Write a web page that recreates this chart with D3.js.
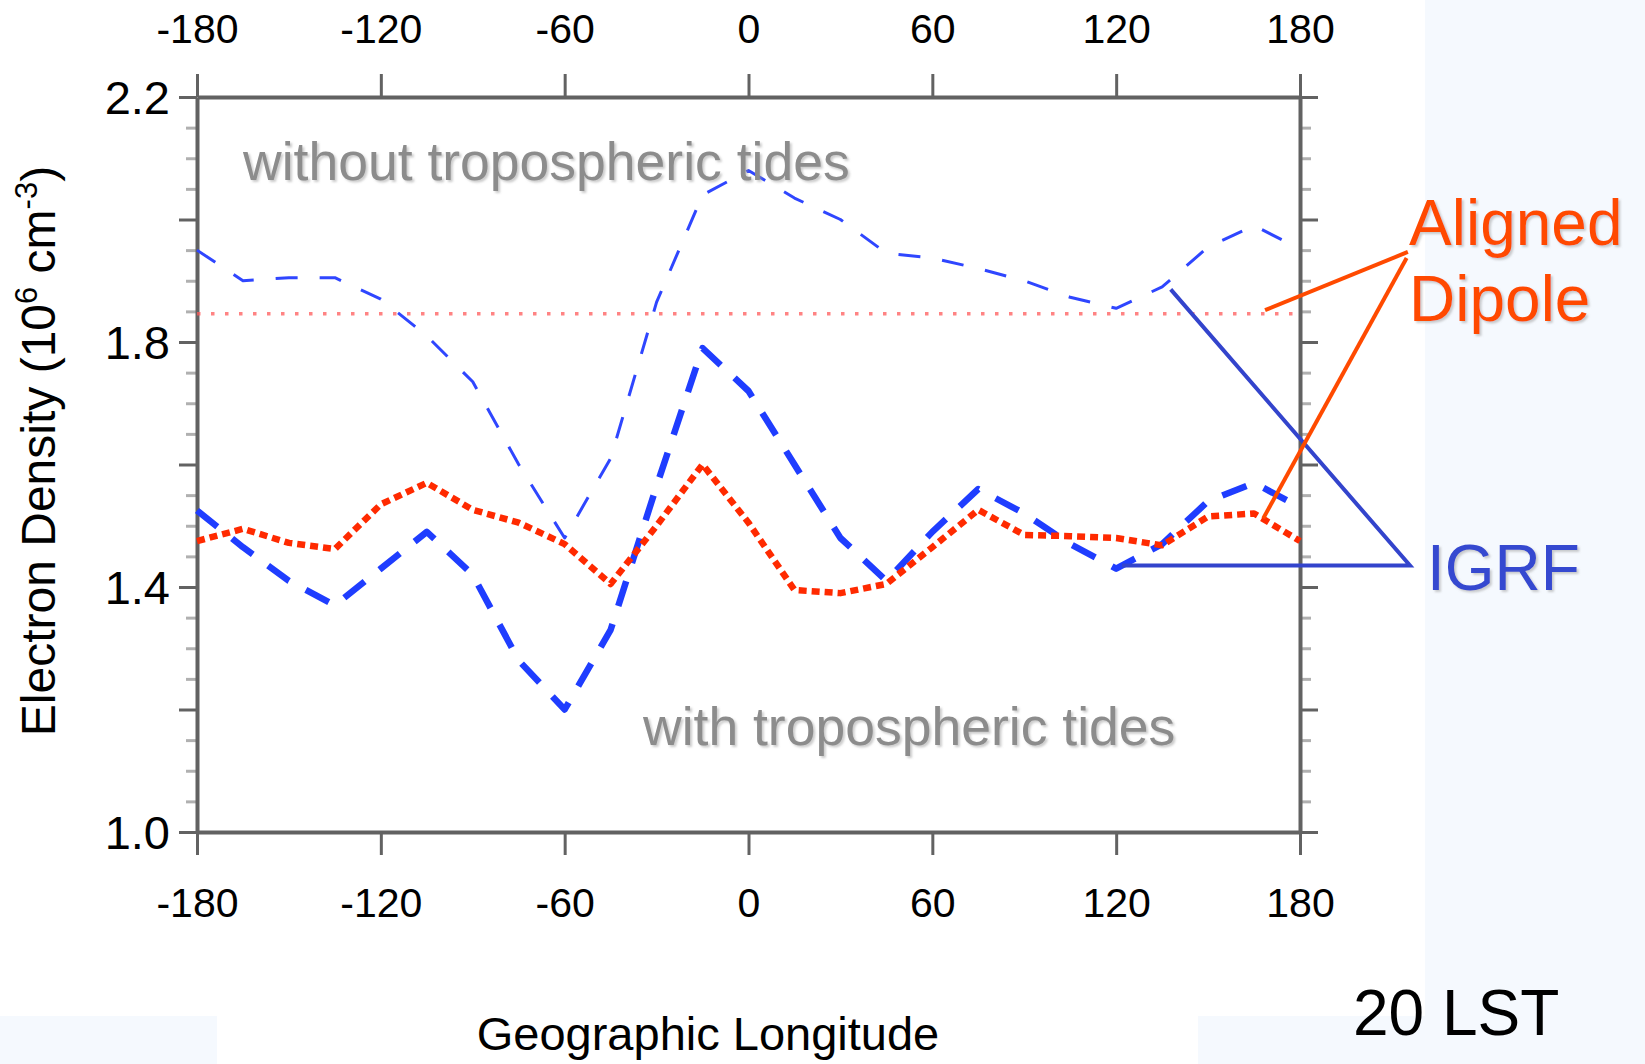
<!DOCTYPE html>
<html>
<head>
<meta charset="utf-8">
<script src="https://cdn.jsdelivr.net/npm/d3@7"></script>
<style>
  html, body { margin: 0; padding: 0; background: #fff; }
  svg { display: block; font-family: 'Liberation Sans', Arial, Helvetica, sans-serif; }
</style>
</head>
<body>
<div id="chart"></div>
<script>
/* global d3 */

// longitudes of the model grid (deg)
const lons = [-180, -165, -150, -135, -120, -105, -90, -75, -60, -45, -30, -15, 0,
  15, 30, 45, 60, 75, 90, 105, 120, 135, 150, 165, 180]

// electron density, 10^6 cm^-3
const igrfNoTides = [1.95, 1.90, 1.905, 1.905, 1.87, 1.81, 1.735, 1.60, 1.48, 1.61, 1.865, 2.04, 2.08,
  2.035, 2.00, 1.945, 1.937, 1.92, 1.90, 1.873, 1.855, 1.89, 1.955, 1.99, 1.952]
const igrfTides = [1.525, 1.465, 1.41, 1.37, 1.43, 1.49, 1.42, 1.28, 1.20, 1.33, 1.565, 1.79, 1.72,
  1.60, 1.48, 1.41, 1.49, 1.56, 1.52, 1.47, 1.43, 1.47, 1.54, 1.57, 1.53]
const dipoleNoTides = [1.846, 1.846, 1.846, 1.846, 1.846, 1.846, 1.846, 1.846, 1.846, 1.846, 1.846, 1.846, 1.846,
  1.846, 1.846, 1.846, 1.846, 1.846, 1.846, 1.846, 1.846, 1.846, 1.846, 1.846, 1.846]
const dipoleTides = [1.475, 1.495, 1.472, 1.462, 1.535, 1.57, 1.526, 1.505, 1.47, 1.405, 1.50, 1.60, 1.505,
  1.395, 1.39, 1.405, 1.465, 1.526, 1.485, 1.483, 1.48, 1.468, 1.515, 1.52, 1.475]

const xTicks = [-180, -120, -60, 0, 60, 120, 180]
const yMajor = [1.0, 1.2, 1.4, 1.6, 1.8, 2.0, 2.2]
const yLabeled = [1.0, 1.4, 1.8, 2.2]
const yMinor = [1.05, 1.1, 1.15, 1.25, 1.3, 1.35, 1.45, 1.5, 1.55, 1.65, 1.7, 1.75, 1.85, 1.9, 1.95, 2.05, 2.1, 2.15]

// callout pointer lines, in data units [lon, density]
const igrfPointer = [[137.8, 1.886], [215.9, 1.435], [121.9, 1.435]]
const dipolePointerA = [[168.6, 1.852], [215.2, 1.947]]
const dipolePointerB = [[168, 1.512], [214.8, 1.937]]

const W = 1645
const H = 1064
const plot = { left: 197, right: 1300, top: 97, bottom: 832 }

const svg = d3.select('#chart').append('svg').attr('width', W).attr('height', H)

// slide background peeking through
const bg = '#f5f9fe'
svg.append('rect').attr('x', 1425).attr('y', 0).attr('width', W - 1425).attr('height', H).attr('fill', bg)
svg.append('rect').attr('x', 0).attr('y', 1016).attr('width', 217).attr('height', H - 1016).attr('fill', bg)
svg.append('rect').attr('x', 1198).attr('y', 1016).attr('width', 227).attr('height', H - 1016).attr('fill', bg)

const defs = svg.append('defs')
defs.append('filter').attr('id', 'shadow').attr('x', '-5%').attr('y', '-20%').attr('width', '115%').attr('height', '150%')
  .append('feDropShadow').attr('dx', 2).attr('dy', 2).attr('stdDeviation', 1)
  .attr('flood-color', '#999').attr('flood-opacity', 0.5)

const x = d3.scaleLinear().domain([-180, 180]).range([plot.left, plot.right])
const y = d3.scaleLinear().domain([1.0, 2.2]).range([plot.bottom, plot.top])

const axisColor = '#626262'
const minorColor = '#b0b0b0'

function styleAxis (g, labelSize) {
  g.select('.domain').attr('stroke', axisColor).attr('stroke-width', 4)
  g.selectAll('.tick line').attr('stroke', axisColor).attr('stroke-width', 3)
  g.selectAll('.tick text').attr('fill', '#000').attr('font-size', labelSize)
    .attr('font-family', "'Liberation Sans', Arial, sans-serif")
}

// minor ticks first so majors sit on top
svg.append('g').attr('transform', `translate(${plot.left},0)`)
  .call(d3.axisLeft(y).tickValues(yMinor).tickSize(11).tickSizeOuter(0).tickFormat(''))
  .call(g => { g.select('.domain').remove(); g.selectAll('.tick line').attr('stroke', minorColor).attr('stroke-width', 3) })
svg.append('g').attr('transform', `translate(${plot.right},0)`)
  .call(d3.axisRight(y).tickValues(yMinor).tickSize(11).tickSizeOuter(0).tickFormat(''))
  .call(g => { g.select('.domain').remove(); g.selectAll('.tick line').attr('stroke', minorColor).attr('stroke-width', 3) })

svg.append('g').attr('transform', `translate(${plot.left},0)`)
  .call(d3.axisLeft(y).tickValues(yMajor).tickSize(18).tickSizeOuter(0).tickPadding(9)
    .tickFormat(d => yLabeled.some(v => Math.abs(v - d) < 1e-9) ? d.toFixed(1) : ''))
  .call(g => styleAxis(g, 47))
  .call(g => g.selectAll('.tick text').attr('dy', '0.36em'))

svg.append('g').attr('transform', `translate(${plot.right},0)`)
  .call(d3.axisRight(y).tickValues(yMajor).tickSize(18).tickSizeOuter(0).tickFormat(''))
  .call(g => styleAxis(g, 47))

svg.append('g').attr('transform', `translate(0,${plot.top})`)
  .call(d3.axisTop(x).tickValues(xTicks).tickSize(23).tickSizeOuter(0).tickPadding(31).tickFormat(d => String(d)))
  .call(g => styleAxis(g, 41))

svg.append('g').attr('transform', `translate(0,${plot.bottom})`)
  .call(d3.axisBottom(x).tickValues(xTicks).tickSize(23).tickSizeOuter(0).tickPadding(33).tickFormat(d => String(d)))
  .call(g => styleAxis(g, 41))

// series
const line = d3.line().x(d => x(d[0])).y(d => y(d[1]))
const pairs = vals => lons.map((lon, i) => [lon, vals[i]])

const series = [
  { vals: dipoleNoTides, color: '#ff5a5a', width: 3.5, dash: '3.5,10.5', opacity: 0.75 },
  { vals: igrfNoTides, color: '#2f46ff', width: 3, dash: '22,22', opacity: 1 },
  { vals: igrfTides, color: '#1f3dff', width: 6.5, dash: '26,19', opacity: 1 },
  { vals: dipoleTides, color: '#ff2a00', width: 6.5, dash: '8,5', opacity: 1 }
]

svg.append('g').selectAll('path').data(series).enter().append('path')
  .attr('d', s => line(pairs(s.vals)))
  .attr('fill', 'none')
  .attr('stroke', s => s.color)
  .attr('stroke-width', s => s.width)
  .attr('stroke-dasharray', s => s.dash)
  .attr('stroke-opacity', s => s.opacity)
  .attr('stroke-linejoin', 'round')

// in-plot labels
svg.append('text').attr('x', 243).attr('y', 180).attr('font-size', 53.5).attr('fill', '#8c8c8c')
  .attr('filter', 'url(#shadow)').text('without tropospheric tides')
svg.append('text').attr('x', 643).attr('y', 745).attr('font-size', 53.5).attr('fill', '#8c8c8c')
  .attr('filter', 'url(#shadow)').text('with tropospheric tides')

// callouts
svg.append('path').attr('d', line(igrfPointer)).attr('fill', 'none')
  .attr('stroke', '#3344cc').attr('stroke-width', 4)
svg.append('path').attr('d', line(dipolePointerA)).attr('fill', 'none')
  .attr('stroke', '#ff4a00').attr('stroke-width', 4)
svg.append('path').attr('d', line(dipolePointerB)).attr('fill', 'none')
  .attr('stroke', '#ff4a00').attr('stroke-width', 4)

svg.append('text').attr('x', 1409).attr('y', 245).attr('font-size', 64).attr('fill', '#ff4a00')
  .attr('filter', 'url(#shadow)').text('Aligned')
svg.append('text').attr('x', 1409).attr('y', 321).attr('font-size', 64).attr('fill', '#ff4a00')
  .attr('filter', 'url(#shadow)').text('Dipole')
svg.append('text').attr('x', 1427).attr('y', 590).attr('font-size', 64).attr('fill', '#3548d0')
  .attr('filter', 'url(#shadow)').text('IGRF')

// axis titles
const yTitle = svg.append('text')
  .attr('transform', 'translate(55,451) rotate(-90)')
  .attr('text-anchor', 'middle').attr('font-size', 48).attr('fill', '#000')
yTitle.append('tspan').text('Electron Density (10')
yTitle.append('tspan').attr('font-size', 31).attr('dy', -18).text('6')
yTitle.append('tspan').attr('dy', 18).text(' cm')
yTitle.append('tspan').attr('font-size', 31).attr('dy', -18).text('-3')
yTitle.append('tspan').attr('dy', 18).text(')')

svg.append('text').attr('x', 708).attr('y', 1050).attr('text-anchor', 'middle')
  .attr('font-size', 47).attr('fill', '#000').text('Geographic Longitude')

svg.append('text').attr('x', 1353).attr('y', 1035).attr('font-size', 64).attr('fill', '#000')
  .text('20 LST')
</script>
</body>
</html>
